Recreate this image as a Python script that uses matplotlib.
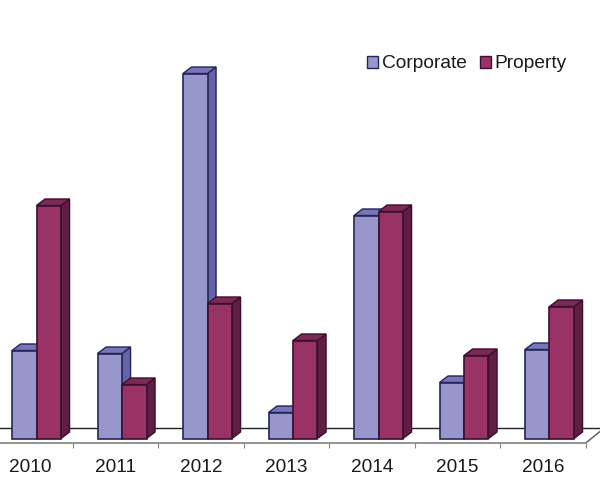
import matplotlib
matplotlib.use('Agg')
import matplotlib.pyplot as plt
from matplotlib.patches import Polygon, Patch

plt.rcParams['font.family'] = ['Liberation Sans', 'DejaVu Sans']

years = ['2010', '2011', '2012', '2013', '2014', '2015', '2016']
corporate = [88, 85, 365, 26, 223, 56, 89]
prop = [233, 54, 135, 98, 227, 83, 132]

# face, top, side, edge
corp_cols = ('#9797CB', '#7676B8', '#6464A8', '#25255A')
prop_cols = ('#993366', '#7B2A55', '#5F1F43', '#3A1030')

bar_w = 0.2865
shift = 0.076
depth_x = 0.1
depth_y = 6.5


def bar3d(ax, x0, h, cols):
    face, top, side, edge = cols
    x1 = x0 + bar_w
    dx, dy = depth_x, depth_y
    ax.add_patch(Polygon([(x1, 0), (x1 + dx, dy), (x1 + dx, h + dy), (x1, h)],
                         fc=side, ec=edge, lw=1.0, zorder=3))
    ax.add_patch(Polygon([(x0, h), (x0 + dx, h + dy), (x1 + dx, h + dy), (x1, h)],
                         fc=top, ec=edge, lw=1.0, zorder=3))
    ax.add_patch(Polygon([(x0, 0), (x1, 0), (x1, h), (x0, h)],
                         fc=face, ec=edge, lw=1.2, zorder=3))


fig = plt.figure(figsize=(6, 5), dpi=100)
ax = fig.add_axes([0, 57 / 500, 585.75 / 600, 443 / 500])
ax.set_xlim(-0.351, 6.5)
ax.set_ylim(-4.5, 438.5)

# floor
ax.plot([-0.351, 6.5 + 14.25 / 85.5], [10.5, 10.5], color='#222222', lw=1.0, zorder=1, clip_on=False)
ax.plot([6.5, 6.5 + 14.25 / 85.5], [-4.5, 7], color='#555555', lw=1.0, zorder=1, clip_on=False)

for i in range(len(years)):
    bar3d(ax, i - bar_w + shift, corporate[i], corp_cols)
    bar3d(ax, i + shift, prop[i], prop_cols)

for s in ['top', 'left', 'right']:
    ax.spines[s].set_visible(False)
ax.spines['bottom'].set_color('#8a8a8a')
ax.spines['bottom'].set_linewidth(1.3)
ax.set_yticks([])
ax.set_xticks([i + 0.5 for i in range(len(years))])
ax.set_xticklabels([])
ax.set_xticks(range(len(years)), years, minor=True)
ax.tick_params(axis='x', which='major', length=3.6, width=0.8, color='#8a8a8a')
ax.tick_params(axis='x', which='minor', length=0, pad=11.5, labelsize=13.7, labelcolor='#1a1a1a')

handles = [Patch(fc=corp_cols[0], ec=corp_cols[3], lw=1.0, label='Corporate'),
           Patch(fc=prop_cols[0], ec=prop_cols[3], lw=1.0, label='Property')]
ax.legend(handles=handles, ncols=2, frameon=False, fontsize=13.8,
          loc='center', bbox_to_anchor=(467 / 585.75, (443 - 64) / 443),
          handlelength=0.56, handleheight=0.56, handletextpad=0.2,
          columnspacing=0.68, labelcolor='#1a1a1a')

fig.savefig('out.png', dpi=100)
